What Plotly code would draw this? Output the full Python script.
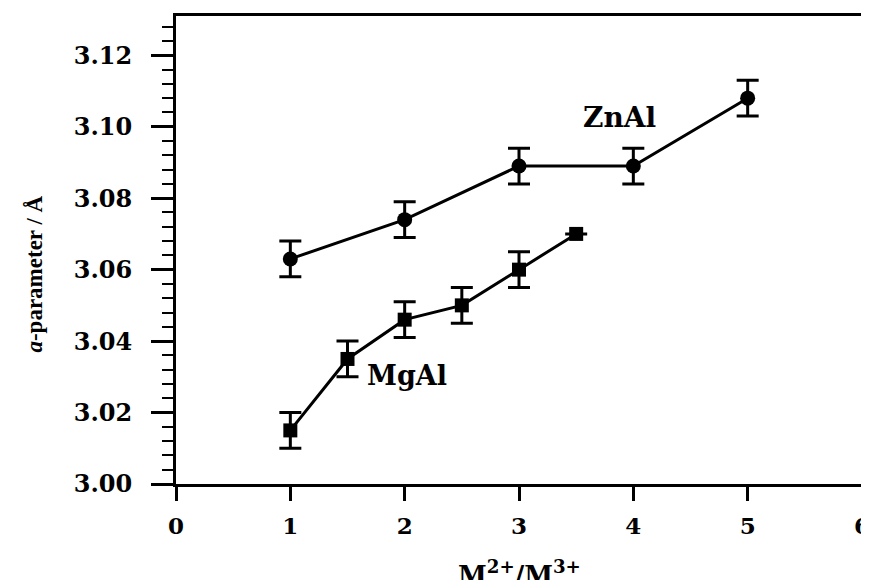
import plotly.graph_objects as go

# Data
znal_x = [1, 2, 3, 4, 5]
znal_y = [3.063, 3.074, 3.089, 3.089, 3.108]
znal_err = [0.005, 0.005, 0.005, 0.005, 0.005]

mgal_x = [1, 1.5, 2, 2.5, 3, 3.5]
mgal_y = [3.015, 3.035, 3.046, 3.050, 3.060, 3.070]
mgal_err = [0.005, 0.005, 0.005, 0.005, 0.005, 0.0]

y_tickvals = [3.00, 3.02, 3.04, 3.06, 3.08, 3.10, 3.12]
y_ticktext = ["3.00", "3.02", "3.04", "3.06", "3.08", "3.10", "3.12"]
x_tickvals = [0, 1, 2, 3, 4, 5, 6]
x_ticktext = ["0", "1", "2", "3", "4", "5", "6"]

fig = go.Figure()
fig.add_trace(go.Scatter(
    x=znal_x, y=znal_y, mode="lines+markers", name="ZnAl",
    line=dict(color="black", width=3),
    marker=dict(symbol="circle", size=15, color="black"),
    error_y=dict(type="data", array=znal_err, visible=True, color="black", thickness=3, width=11),
))
fig.add_trace(go.Scatter(
    x=mgal_x, y=mgal_y, mode="lines+markers", name="MgAl",
    line=dict(color="black", width=3),
    marker=dict(symbol="square", size=14, color="black"),
    error_y=dict(type="data", array=mgal_err, visible=True, color="black", thickness=3, width=11),
))

fig.add_annotation(x=3.88, y=3.1025, text="ZnAl", showarrow=False,
                   font=dict(family="DejaVu Serif", size=28, color="black", weight="bold"))
fig.add_annotation(x=2.02, y=3.0305, text="MgAl", showarrow=False,
                   font=dict(family="DejaVu Serif", size=27, color="black", weight="bold"))

# axis titles as annotations (paper coordinates)
fig.add_annotation(xref="paper", yref="paper", x=-0.206, y=0.449, xanchor="center", yanchor="middle",
                   text="<i>a</i>-parameter / Å", textangle=-90, showarrow=False,
                   font=dict(family="Liberation Serif", size=23, color="black", weight="bold"))
fig.add_annotation(xref="paper", yref="paper", x=0.5, y=-0.19, xanchor="center", yanchor="middle",
                   text="M<sup>2+</sup>/M<sup>3+</sup>", showarrow=False,
                   font=dict(family="DejaVu Serif", size=26, color="black", weight="bold"))

fig.update_layout(
    width=869, height=572,
    margin=dict(l=168, r=15, t=8, b=96, autoexpand=False),
    paper_bgcolor="white", plot_bgcolor="white",
    showlegend=False,
    font=dict(family="DejaVu Serif", color="black"),
)
fig.update_xaxes(
    range=[0, 6], tickvals=x_tickvals, ticktext=x_ticktext, automargin=False,
    showgrid=False, zeroline=False,
    showline=True, linecolor="black", linewidth=3, mirror=True,
    ticks="outside", ticklen=14, tickwidth=3, tickcolor="black",
    ticklabeloverflow="allow", ticklabelstandoff=5,
    tickfont=dict(family="DejaVu Serif", size=23, color="black", weight="bold"),
)
fig.update_yaxes(
    range=[3.0, 3.131], tickvals=y_tickvals, ticktext=y_ticktext, automargin=False,
    showgrid=False, zeroline=False,
    showline=True, linecolor="black", linewidth=3, mirror=True,
    ticks="outside", ticklen=22, tickwidth=3, tickcolor="black",
    minor=dict(dtick=0.004, tick0=3.0, ticks="outside", ticklen=11, tickwidth=2, tickcolor="black"),
    ticklabelstandoff=14,
    tickfont=dict(family="DejaVu Serif", size=24, color="black", weight="bold"),
)

fig.write_html("out.html")
